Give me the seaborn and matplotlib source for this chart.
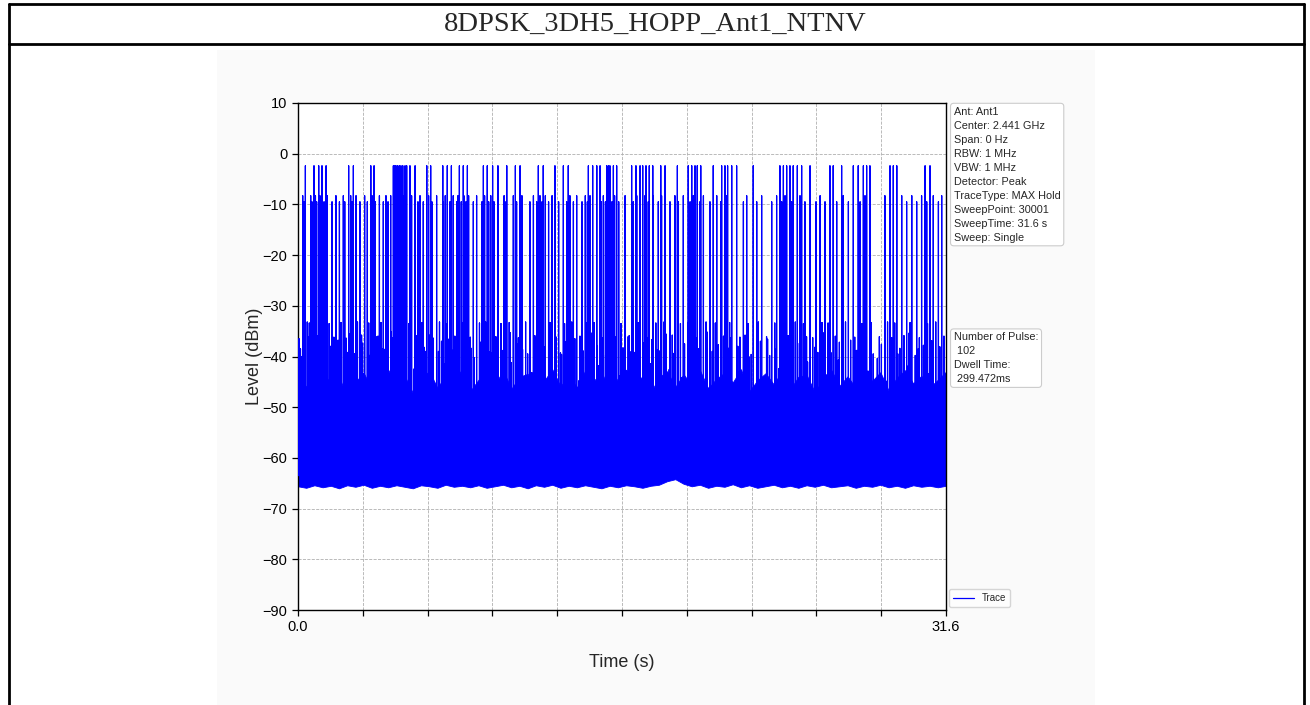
import matplotlib
matplotlib.use("Agg")
import pandas as pd
import seaborn as sns
import matplotlib.pyplot as plt
from matplotlib.lines import Line2D
from matplotlib.patches import Rectangle

TITLE = "8DPSK_3DH5_HOPP_Ant1_NTNV"
SWEEP_TIME = 31.6

# hopping pulses that reach the top level (time in s)
tall_t = [0.36, 0.78, 1.01, 1.17, 1.37, 2.47, 2.70, 3.55, 3.71, 4.65, 4.72, 4.78, 4.86, 4.94,
          5.02, 5.11, 5.22, 5.30, 5.46, 5.71, 6.28, 6.47, 7.06, 7.28, 7.48, 7.87, 8.06, 8.26,
          9.04, 9.23, 9.49, 9.75, 10.18, 10.60, 10.83, 11.72, 11.96, 12.53, 12.94, 13.18,
          14.16, 14.37, 14.57, 14.73, 15.05, 15.13, 15.21, 15.38, 15.54, 16.27, 16.48, 16.68,
          16.81, 16.97, 17.13, 17.30, 17.69, 17.90, 18.50, 19.03, 19.20, 19.36, 19.47, 19.64,
          20.25, 20.66, 20.82, 20.95, 21.15, 21.39, 22.20, 23.50, 23.67, 23.83, 23.99, 24.15,
          24.35, 24.56, 24.97, 25.94, 26.10, 26.51, 27.08, 27.32, 27.57, 27.73, 27.89, 28.87,
          29.03, 29.20, 30.58, 30.82]
tall_level = -2.4

# pulses around -8 dBm
mid_a_t = [0.23, 0.62, 0.85, 1.07, 1.43, 1.85, 2.21, 2.57, 2.83, 3.25, 3.61, 3.97, 4.29, 4.52,
           5.14, 5.54, 5.95, 6.37, 6.76, 7.18, 7.57, 7.80, 8.09, 8.32, 8.71, 9.10, 9.40, 10.05,
           10.50, 10.92, 11.48, 11.80, 12.06, 12.39, 12.94, 13.26, 13.59, 14.01, 14.24, 14.89,
           15.12, 15.44, 15.95, 16.52, 16.92, 17.33, 17.73, 18.38, 18.79, 19.28, 19.77, 20.42,
           20.90, 21.39, 21.88, 22.61, 23.34, 23.75, 24.48, 24.97, 25.46, 25.94, 26.59, 27.08,
           27.65, 28.62, 29.44, 29.93, 30.41, 30.98, 31.39]
mid_a_level = -8.3

# pulses around -9.5 dBm
mid_b_t = [0.29, 0.68, 0.91, 1.27, 1.66, 2.02, 2.28, 2.63, 3.02, 3.38, 3.77, 4.16, 4.39, 4.97,
           5.30, 5.85, 6.11, 6.53, 7.09, 7.41, 7.74, 7.96, 8.19, 8.55, 8.97, 9.30, 9.56, 10.14,
           10.66, 11.31, 11.64, 11.90, 12.22, 12.71, 13.10, 13.43, 13.85, 14.11, 14.79, 14.99,
           15.31, 15.64, 16.35, 16.68, 17.08, 17.57, 18.14, 18.55, 19.12, 19.60, 20.09, 20.61,
           21.15, 21.72, 22.37, 23.10, 23.59, 24.07, 24.72, 25.26, 25.70, 26.27, 26.84, 27.41,
           27.89, 29.03, 29.68, 30.17, 30.66, 31.23]
mid_b_level = -9.5

# adjacent channel spikes (-33 .. -37 dBm)
side_t = [0.05, 0.45, 0.55, 0.95, 1.30, 1.52, 1.75, 2.10, 2.35, 2.90, 3.10, 3.45, 3.85, 4.05,
          4.40, 4.60, 5.05, 5.40, 5.80, 6.05, 6.60, 6.90, 7.25, 7.65, 8.00, 8.40, 8.85, 9.15,
          9.65, 9.90, 10.30, 10.75, 11.10, 11.55, 11.95, 12.30, 12.60, 13.00, 13.35, 13.75,
          14.05, 14.45, 14.85, 15.25, 15.75, 16.10, 16.60, 17.00, 17.45, 17.85, 18.25, 18.65,
          19.00, 19.45, 19.90, 20.35, 20.75, 21.05, 21.55, 21.95, 22.45, 22.85, 23.25, 23.55,
          23.90, 24.25, 24.65, 25.10, 25.55, 25.85, 26.20, 26.70, 27.15, 27.50, 27.95, 28.35,
          28.75, 29.10, 29.55, 29.85, 30.30, 30.70, 31.10, 31.50]
side_level = [-36.5, -33.2, -33.4, -36.0, -33.3, -33.5, -36.2, -33.3, -36.4, -33.2, -35.8, -33.4,
              -36.1, -33.3, -33.6, -36.3, -33.2, -33.5, -35.9, -33.3, -36.4, -33.2, -33.5, -36.0,
              -33.3, -36.2, -33.4, -33.2, -36.1, -33.5, -33.3, -36.3, -33.2, -35.9, -33.4, -33.3,
              -36.2, -33.5, -33.2, -36.0, -33.4, -33.3, -36.4, -33.2, -33.5, -36.1, -33.3, -36.2,
              -33.4, -33.2, -35.8, -33.5, -33.3, -36.3, -33.2, -33.4, -36.0, -33.3, -36.2, -33.5,
              -33.2, -36.1, -33.4, -33.3, -35.9, -33.2, -33.5, -36.3, -33.3, -33.4, -36.0, -33.2,
              -36.2, -33.5, -33.3, -36.1, -33.2, -33.4, -35.9, -33.3, -36.3, -33.5, -33.2, -36.0]

# more adjacent channel spikes (-35 .. -40 dBm)
side2_t = [0.12, 0.50, 0.88, 1.22, 1.58, 1.95, 2.40, 2.52, 3.15, 3.50, 3.90, 4.22, 4.55, 5.18,
           5.50, 5.90, 6.15, 6.43, 6.85, 7.00, 7.35, 7.70, 8.12, 8.45, 8.90, 9.35, 9.60, 10.00,
           10.35, 10.70, 11.20, 11.60, 12.00, 12.35, 12.80, 13.05, 13.50, 13.90, 14.30, 14.60,
           15.00, 15.48, 15.85, 16.15, 16.40, 16.85, 17.25, 17.50, 17.95, 18.30, 18.85, 19.10,
           19.52, 19.95, 20.20, 20.50, 21.10, 21.45, 21.80, 22.10, 22.55, 22.90, 23.30, 23.70,
           24.10, 24.45, 24.80, 25.20, 25.60, 26.00, 26.40, 26.95, 27.20, 27.60, 28.05, 28.45,
           28.95, 29.35, 29.80, 30.10, 30.50, 30.90, 31.30]
side2_level = [-38.5, -36.2, -39.6, -35.4, -38.0, -36.8, -39.2, -35.6, -37.4, -39.8, -36.0, -38.6,
               -35.2, -37.8, -39.4, -36.4, -38.2, -35.8, -39.0, -37.0, -36.6, -39.6, -35.5, -38.4,
               -37.2, -39.1, -36.1, -38.8, -35.3, -37.6, -39.5, -36.3, -38.1, -35.7, -39.3, -37.1,
               -36.5, -38.9, -35.4, -37.9, -39.7, -36.2, -38.3, -35.9, -39.2, -37.3, -36.7, -38.7,
               -35.6, -39.4, -37.5, -36.0, -38.5, -35.2, -39.0, -37.7, -36.4, -38.0, -35.8, -39.6,
               -37.0, -36.6, -38.6, -35.5, -39.1, -37.4, -36.1, -38.2, -35.3, -39.3, -37.2, -36.8,
               -38.9, -35.7, -39.5, -37.6, -36.3, -38.4, -35.4, -39.8, -37.8, -36.9, -38.1]

# noise peaks above the floor band (-38 .. -46 dBm)
peak_t = [0.15, 0.70, 1.20, 1.60, 2.15, 2.75, 3.20, 3.65, 4.10, 4.50, 5.25, 5.65, 6.20, 6.70,
          7.15, 7.55, 8.15, 8.60, 9.00, 9.45, 9.85, 10.40, 10.95, 11.40, 11.85, 12.45, 12.85,
          13.30, 13.70, 14.30, 14.65, 15.15, 15.70, 16.20, 16.75, 17.20, 17.65, 18.10, 18.70,
          19.15, 19.55, 20.05, 20.50, 21.00, 21.50, 22.00, 22.50, 23.00, 23.45, 23.80, 24.40,
          24.85, 25.35, 25.80, 26.35, 26.80, 27.25, 27.80, 28.25, 28.70, 29.25, 29.75, 30.25,
          30.75, 31.30]
peak_level = [-40.0, -44.5, -38.5, -42.0, -46.0, -39.5, -43.5, -41.0, -38.5, -45.0, -40.5, -42.5,
              -39.0, -46.5, -41.5, -38.8, -44.0, -40.2, -42.8, -39.3, -45.5, -41.2, -38.6, -43.2,
              -40.8, -46.0, -39.6, -42.2, -44.8, -38.7, -41.8, -40.3, -43.8, -39.1, -45.2, -41.4,
              -38.9, -42.6, -44.2, -40.6, -39.4, -46.2, -41.6, -38.4, -43.0, -40.1, -45.8, -39.8,
              -42.4, -38.6, -44.6, -41.1, -39.2, -43.6, -40.7, -46.4, -38.8, -42.9, -40.4, -44.9,
              -39.5, -41.9, -38.5, -43.4, -40.0]

# noise floor band (lower / upper envelope)
band_t = [0.0, 0.4, 0.8, 1.2, 1.6, 2.0, 2.4, 2.8, 3.2, 3.6, 4.0, 4.4, 4.8, 5.2, 5.6, 6.0, 6.4,
          6.8, 7.2, 7.6, 8.0, 8.4, 8.8, 9.2, 9.6, 10.0, 10.4, 10.8, 11.2, 11.6, 12.0, 12.4, 12.8,
          13.2, 13.6, 14.0, 14.4, 14.8, 15.2, 15.6, 16.0, 16.4, 16.8, 17.2, 17.6, 18.0, 18.4,
          18.8, 19.2, 19.6, 20.0, 20.4, 20.8, 21.2, 21.6, 22.0, 22.4, 22.8, 23.2, 23.6, 24.0,
          24.4, 24.8, 25.2, 25.6, 26.0, 26.4, 26.8, 27.2, 27.6, 28.0, 28.4, 28.8, 29.2, 29.6,
          30.0, 30.4, 30.8, 31.2, 31.6]
band_lo = [-65.6, -65.9, -65.4, -65.8, -65.5, -66.0, -65.4, -65.7, -65.3, -65.9, -65.5, -65.8,
           -65.4, -65.7, -66.0, -65.4, -65.6, -65.9, -65.3, -65.7, -65.5, -65.8, -65.4, -65.9,
           -65.6, -65.3, -65.8, -65.5, -66.0, -65.4, -65.7, -65.3, -65.9, -65.5, -65.8, -65.4,
           -65.7, -66.0, -65.5, -65.8, -65.4, -65.6, -65.9, -65.5, -65.3, -64.6, -64.2, -65.1,
           -65.6, -65.3, -65.9, -65.5, -65.7, -65.2, -65.8, -65.4, -65.9, -65.6, -65.3, -65.8,
           -65.5, -65.9, -65.4, -65.7, -65.3, -65.8, -65.6, -65.4, -65.9, -65.5, -65.7, -65.3,
           -65.8, -65.5, -65.9, -65.4, -65.7, -65.5, -65.8, -65.5]
band_hi = [-43.5, -46.0, -42.5, -45.5, -44.0, -47.0, -42.8, -45.0, -43.2, -46.5, -44.5, -42.6,
           -45.8, -43.8, -47.2, -44.2, -42.9, -46.2, -43.6, -45.2, -42.4, -46.8, -44.6, -43.0,
           -45.6, -42.7, -46.4, -44.0, -43.4, -47.0, -44.8, -42.5, -45.9, -43.7, -46.1, -42.8,
           -44.9, -43.1, -46.6, -44.3, -42.6, -45.4, -43.9, -47.1, -44.1, -42.9, -46.0, -43.5,
           -45.7, -42.7, -46.3, -44.4, -43.2, -45.1, -42.5, -46.9, -44.7, -43.3, -45.5, -42.8,
           -46.5, -44.0, -43.6, -47.0, -44.5, -42.6, -45.8, -43.9, -46.2, -42.9, -44.8, -43.1,
           -46.7, -44.2, -42.7, -45.3, -43.8, -46.1, -44.6, -43.0]

trace_floor = -63.5

info_lines = ["Ant: Ant1", "Center: 2.441 GHz", "Span: 0 Hz", "RBW: 1 MHz", "VBW: 1 MHz",
              "Detector: Peak", "TraceType: MAX Hold", "SweepPoint: 30001",
              "SweepTime: 31.6 s", "Sweep: Single"]
pulse_lines = ["Number of Pulse:", " 102", "Dwell Time:", " 299.472ms"]

x_ticks = [0.0, 3.16, 6.32, 9.48, 12.64, 15.8, 18.96, 22.12, 25.28, 28.44, 31.6]
x_tick_labels = ["0.0", "", "", "", "", "", "", "", "", "", "31.6"]
y_ticks = [10, 0, -10, -20, -30, -40, -50, -60, -70, -80, -90]


def main():
    sns.set_style("ticks")
    plt.rcParams["font.family"] = ["Liberation Sans", "DejaVu Sans"]

    # events -> one trace that goes floor -> peak -> floor
    events = []
    events += [(t, tall_level) for t in tall_t]
    events += [(t, mid_a_level) for t in mid_a_t]
    events += [(t, mid_b_level) for t in mid_b_t]
    events += list(zip(side_t, side_level))
    events += list(zip(side2_t, side2_level))
    events += list(zip(peak_t, peak_level))
    events.sort()

    xs, ys = [], []
    for t, lvl in events:
        xs += [t, t, t]
        ys += [trace_floor, lvl, trace_floor]
    trace = pd.DataFrame({"Time": xs, "Level": ys})

    fig = plt.figure(figsize=(13.1, 7.05), dpi=100)
    W, H = 1310, 705

    # grey background of the embedded plot image
    fig.add_artist(Rectangle((217 / W, 0), (1095 - 217) / W, (705 - 50) / H,
                             transform=fig.transFigure, facecolor="#fafafa",
                             edgecolor="none", zorder=0))

    # table frame around the chart
    lw = 2.0
    for y in [4, 44]:
        fig.add_artist(Line2D([9 / W, 1304 / W], [1 - y / H, 1 - y / H],
                              transform=fig.transFigure, color="black", lw=lw))
    for x in [9, 1304]:
        fig.add_artist(Line2D([x / W, x / W], [0, 1 - 4 / H],
                              transform=fig.transFigure, color="black", lw=lw))
    fig.text(0.5, 1 - 24 / H, TITLE, ha="center", va="center", fontsize=20.5,
             family=["Liberation Serif", "DejaVu Serif"])

    ax = fig.add_axes([298 / W, 1 - 610 / H, (946 - 298) / W, (610 - 103) / H])
    ax.set_facecolor("white")

    ax.fill_between(band_t, band_lo, band_hi, color="blue", lw=0.6, zorder=2)
    sns.lineplot(data=trace, x="Time", y="Level", sort=False, estimator=None,
                 color="blue", lw=0.9, label="Trace", ax=ax, zorder=3)

    ax.set_xlim(0, SWEEP_TIME)
    ax.set_ylim(-90, 10)
    ax.set_xticks(x_ticks)
    ax.set_xticklabels(x_tick_labels)
    ax.set_yticks(y_ticks)
    ax.tick_params(labelsize=10.5, length=4, width=0.9, colors="black")
    ax.grid(True, linestyle="--", color="#b0b0b0", lw=0.6)
    ax.set_axisbelow(True)
    for sp in ax.spines.values():
        sp.set_color("black")
        sp.set_linewidth(1.0)

    ax.set_xlabel("Time (s)", fontsize=13, labelpad=14)
    ax.set_ylabel("Level (dBm)", fontsize=13, labelpad=0)

    box = dict(boxstyle="round,pad=0.3", facecolor="white", edgecolor="#cccccc", lw=0.8)
    ax.text(1.012, 0.993, "\n".join(info_lines), transform=ax.transAxes, ha="left",
            va="top", fontsize=7.8, bbox=box, linespacing=1.5)
    ax.text(1.012, 0.548, "\n".join(pulse_lines), transform=ax.transAxes, ha="left",
            va="top", fontsize=7.8, bbox=box, linespacing=1.5)

    ax.legend(loc="lower left", bbox_to_anchor=(1.0, 0.0), fontsize=7,
              frameon=True, handlelength=2.2, borderaxespad=0.3)

    fig.savefig("out.png", dpi=100)


if __name__ == "__main__":
    main()
